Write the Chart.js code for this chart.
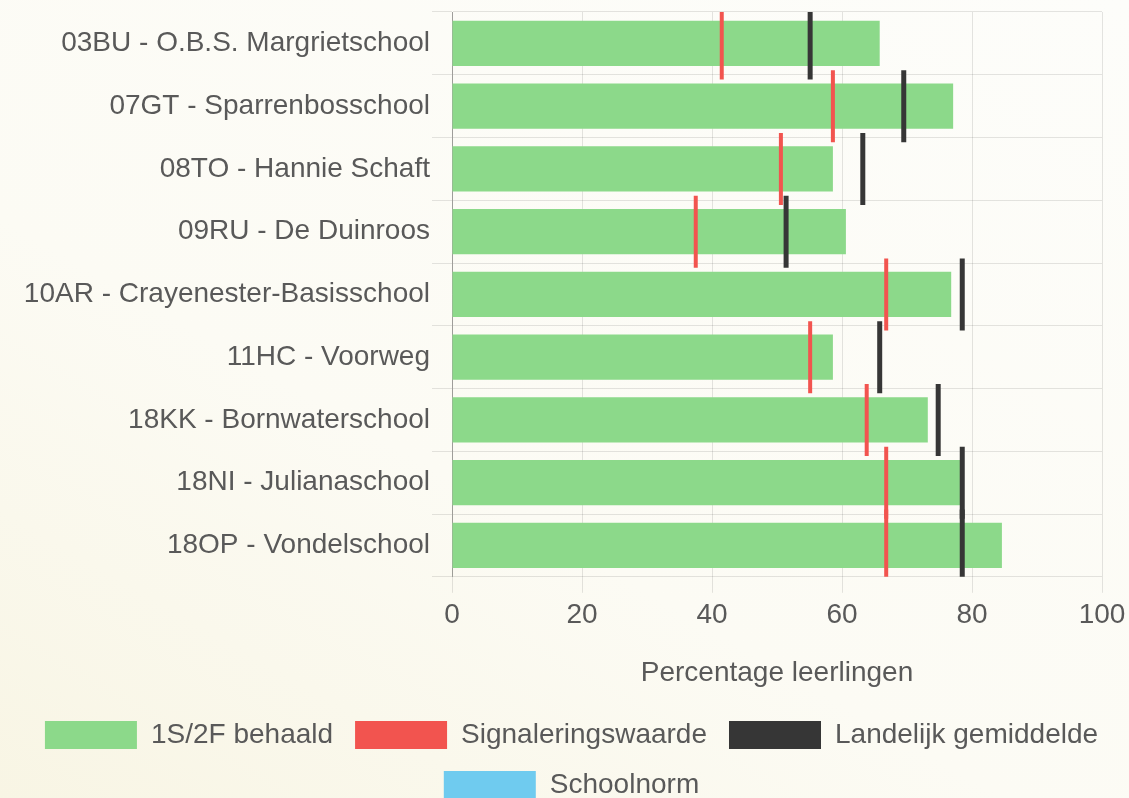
<!DOCTYPE html>
<html>
<head>
<meta charset="utf-8">
<script src="https://cdn.jsdelivr.net/npm/chart.js@4/dist/chart.umd.min.js"></script>
<style>
    html, body { margin: 0; padding: 0; overflow: hidden; }
    body {
        width: 1129px; height: 798px;
        background: linear-gradient(30deg, #f8f5e4 0%, #fcfbf4 40%, #fdfdfa 100%);
    }
    /* canvas iets omhoog/breder: de markeringen vragen extra ruimte aan de randen */
    #wrap { position: absolute; left: 0; top: -29px; width: 1143px; height: 838px; }
</style>
</head>
<body>
<div id="wrap"><canvas id="schoolChart"></canvas></div>
<script>
// Scholen (categorieën)
const scholen = [
    '03BU - O.B.S. Margrietschool',
    '07GT - Sparrenbosschool',
    '08TO - Hannie Schaft',
    '09RU - De Duinroos',
    '10AR - Crayenester-Basisschool',
    '11HC - Voorweg',
    '18KK - Bornwaterschool',
    '18NI - Julianaschool',
    '18OP - Vondelschool'
];

// Percentage leerlingen dat 1S/2F behaalde
const behaald = [65.8, 77.1, 58.6, 60.6, 76.8, 58.6, 73.2, 78.5, 84.6];
// Signaleringswaarde per school
const signaleringswaarde = [41.5, 58.6, 50.6, 37.5, 66.8, 55.1, 63.8, 66.8, 66.8];
// Landelijk gemiddelde per school
const landelijkGemiddelde = [55.1, 69.5, 63.2, 51.4, 78.5, 65.8, 74.8, 78.5, 78.5];
// Schoolnorm (geen waarden in de grafiek)
const schoolnorm = [];

const xTicks = [0, 20, 40, 60, 80, 100];

const tekstKleur = '#595959';
const lettertype = "'Liberation Sans', Arial, sans-serif";

// Markering als verticaal streepje
function markering(label, data, kleur, dikte) {
    return {
        type: 'line',
        label: label,
        data: data,
        showLine: false,
        pointStyle: 'line',
        rotation: 90,
        radius: 36,
        hoverRadius: 36,
        borderWidth: dikte,
        borderColor: kleur,
        backgroundColor: kleur,
        clip: 0,
        order: 0
    };
}

const ctx = document.getElementById('schoolChart');

new Chart(ctx, {
    type: 'bar',
    data: {
        labels: scholen,
        datasets: [
            {
                label: '1S/2F behaald',
                data: behaald,
                backgroundColor: '#8cd98a',
                borderWidth: 0,
                order: 1
            },
            markering('Signaleringswaarde', signaleringswaarde, '#f2544f', 4),
            markering('Landelijk gemiddelde', landelijkGemiddelde, '#363636', 5),
            markering('Schoolnorm', schoolnorm, '#6fcbef', 4)
        ]
    },
    options: {
        indexAxis: 'y',
        responsive: true,
        maintainAspectRatio: false,
        animation: false,
        layout: {
            padding: 0
        },
        scales: {
            x: {
                min: 0,
                max: 100,
                afterBuildTicks: function(scale) {
                    scale.ticks = xTicks.map(v => ({ value: v }));
                },
                ticks: {
                    color: tekstKleur,
                    font: { family: lettertype, size: 28 },
                    padding: 6
                },
                grid: {
                    color: 'rgba(0, 0, 0, 0.1)',
                    tickLength: 16
                },
                border: { display: false },
                title: {
                    display: true,
                    text: 'Percentage leerlingen',
                    color: tekstKleur,
                    font: { family: lettertype, size: 28 },
                    padding: { top: 18, bottom: 9 }
                }
            },
            y: {
                afterFit: function(scale) {
                    scale.width = 452;
                },
                ticks: {
                    color: tekstKleur,
                    font: { family: lettertype, size: 28 },
                    padding: 2
                },
                grid: {
                    color: 'rgba(0, 0, 0, 0.1)',
                    tickLength: 20
                },
                border: { color: 'rgba(0, 0, 0, 0.3)', width: 1 }
            }
        },
        plugins: {
            tooltip: { enabled: false },
            legend: {
                position: 'bottom',
                labels: {
                    boxWidth: 92,
                    boxHeight: 28,
                    padding: 22,
                    color: tekstKleur,
                    font: { family: lettertype, size: 28 },
                    generateLabels: function(chart) {
                        return chart.data.datasets.map((ds, i) => ({
                            text: ds.label,
                            fillStyle: ds.backgroundColor,
                            strokeStyle: ds.backgroundColor,
                            lineWidth: 0,
                            fontColor: tekstKleur,
                            hidden: !chart.isDatasetVisible(i),
                            datasetIndex: i
                        }));
                    }
                }
            }
        }
    }
});
</script>
</body>
</html>
